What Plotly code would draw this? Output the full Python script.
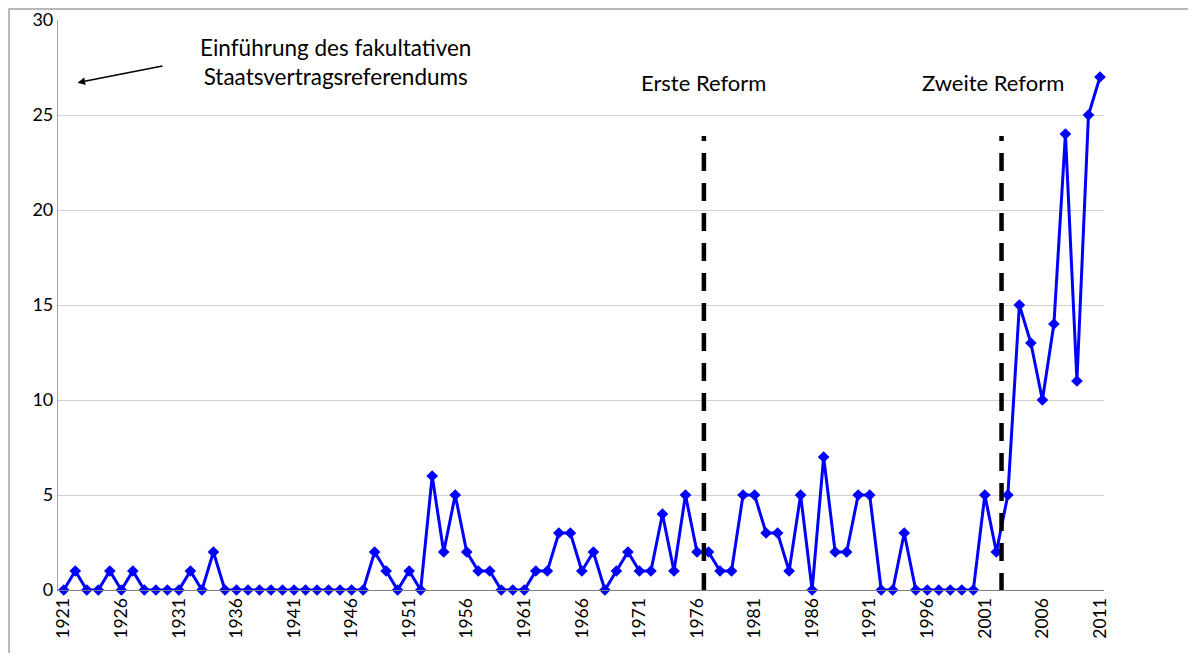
import plotly.graph_objects as go

years = list(range(1921, 2012))
values = [0, 1, 0, 0, 1, 0, 1, 0, 0, 0,   # 1921-1930
          0, 1, 0, 2, 0, 0, 0, 0, 0, 0,   # 1931-1940
          0, 0, 0, 0, 0, 0, 0, 2, 1, 0,   # 1941-1950
          1, 0, 6, 2, 5, 2, 1, 1, 0, 0,   # 1951-1960
          0, 1, 1, 3, 3, 1, 2, 0, 1, 2,   # 1961-1970
          1, 1, 4, 1, 5, 2, 2, 1, 1, 5,   # 1971-1980
          5, 3, 3, 1, 5, 0, 7, 2, 2, 5,   # 1981-1990
          5, 0, 0, 3, 0, 0, 0, 0, 0, 0,   # 1991-2000
          5, 2, 5, 15, 13, 10, 14, 24, 11, 25,  # 2001-2010
          27]                              # 2011
tick_years = list(range(1921, 2012, 5))
y_ticks = [0, 5, 10, 15, 20, 25, 30]
reform_years = [1976.6, 2002.45]
reform_labels = ["Erste Reform", "Zweite Reform"]

FONT = "Lato"
DASH = "5px,12px," + ",".join(["18px,12px"] * 20)

fig = go.Figure()
fig.add_trace(go.Scatter(
    x=years, y=values, mode="lines+markers",
    line=dict(color="#0000FF", width=3),
    marker=dict(symbol="diamond", size=9, color="#0000FF"),
    showlegend=False, cliponaxis=False,
))

for xr in reform_years:
    fig.add_shape(type="line", x0=xr, x1=xr, y0=23.9, y1=-0.55,
                  xref="x", yref="y",
                  line=dict(color="black", width=4.5, dash=DASH))

fig.add_annotation(x=reform_years[0], y=26.7, text=reform_labels[0],
                   showarrow=False, font=dict(family=FONT, size=22, color="black"))
fig.add_annotation(x=reform_years[1] - 0.7, y=26.7, text=reform_labels[1],
                   showarrow=False, font=dict(family=FONT, size=22, color="black"))

fig.add_annotation(x=1944.6, y=27.8,
                   text="Einführung des fakultativen<br>Staatsvertragsreferendums",
                   showarrow=False, font=dict(family=FONT, size=22.5, color="black"),
                   align="center")
fig.add_annotation(x=1922.2, y=26.7, ax=1929.7, ay=27.6,
                   xref="x", yref="y", axref="x", ayref="y",
                   text="", showarrow=True, arrowhead=2, arrowsize=1,
                   arrowwidth=1.5, arrowcolor="black")

# outer frame
fig.add_shape(type="rect", xref="paper", yref="paper",
              x0=-0.0468, x1=1.2, y0=-0.26, y1=1.0193,
              line=dict(color="#A0A0A0", width=1.5), layer="below")

fig.update_layout(
    width=1188, height=645,
    margin=dict(l=50, r=92, t=12, b=63, autoexpand=False),
    plot_bgcolor="white", paper_bgcolor="white",
    font=dict(family=FONT, size=17, color="black"),
    xaxis=dict(range=[1920.5, 2011.35], tickmode="array", tickvals=tick_years,
               ticktext=[str(t) for t in tick_years], tickangle=-90,
               showgrid=False, zeroline=False, showline=True, automargin=False,
               linecolor="#808080", linewidth=1.2,
               tickfont=dict(family=FONT, size=17.5)),
    yaxis=dict(range=[0, 30], tickmode="array", tickvals=y_ticks,
               showgrid=True, gridcolor="#D0D0D0", gridwidth=1, automargin=False,
               zeroline=False, showline=True, linecolor="#A0A0A0",
               linewidth=1.2, ticks="", ticklen=0,
               tickfont=dict(family=FONT, size=18)),
)

fig.write_html("out.html")
